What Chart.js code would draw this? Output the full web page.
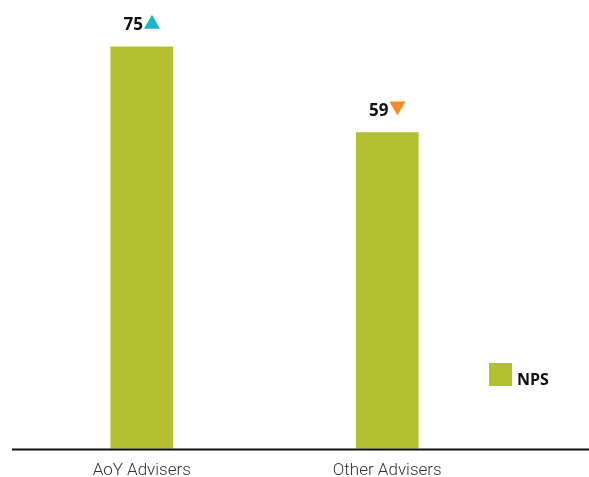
<!DOCTYPE html>
<html>
<head>
<meta charset="utf-8">
<script src="https://cdn.jsdelivr.net/npm/chart.js@4/dist/chart.umd.min.js"></script>
<style>
  html, body { margin: 0; padding: 0; background: #fff; }
  #wrap { width: 589px; height: 477px; position: relative; }
</style>
</head>
<body>
<div id="wrap"><canvas id="npsChart"></canvas></div>
<script>
const categories = ['AoY Advisers', 'Other Advisers'];
const npsValues = [75, 59];
const trends = ['up', 'down'];
const seriesLabel = 'NPS';

const BAR_GREEN = '#b3c02f';
const UP_COLOR = '#1ab5c8';
const DOWN_COLOR = '#f68b1f';

/* value labels with trend triangles */
const valueLabels = {
  id: 'valueLabels',
  afterDatasetsDraw(chart) {
    const ctx = chart.ctx;
    const meta = chart.getDatasetMeta(0);
    ctx.save();
    ctx.font = 'bold 17px "Open Sans", sans-serif';
    ctx.textBaseline = 'alphabetic';
    meta.data.forEach((bar, i) => {
      const txt = String(chart.data.datasets[0].data[i]);
      const w = ctx.measureText(txt).width;
      const tri = 16;
      const total = w + 1 + tri;
      const x0 = bar.x - total / 2;
      const base = bar.y - 17;
      ctx.fillStyle = '#111';
      ctx.textAlign = 'left';
      ctx.fillText(txt, x0, base);
      const tx = x0 + w + 1;
      ctx.beginPath();
      if (trends[i] === 'up') {
        ctx.fillStyle = UP_COLOR;
        ctx.moveTo(tx, base - 1);
        ctx.lineTo(tx + tri, base - 1);
        ctx.lineTo(tx + tri / 2, base - 15);
      } else {
        ctx.fillStyle = DOWN_COLOR;
        ctx.moveTo(tx, base - 14);
        ctx.lineTo(tx + tri, base - 14);
        ctx.lineTo(tx + tri / 2, base);
      }
      ctx.closePath();
      ctx.fill();
    });
    ctx.restore();
  }
};

/* baseline + legend */
const extras = {
  id: 'extras',
  afterDraw(chart) {
    const ctx = chart.ctx;
    const y = chart.scales.y.getPixelForValue(0);
    ctx.save();
    ctx.strokeStyle = '#111';
    ctx.lineWidth = 2;
    ctx.beginPath();
    ctx.moveTo(12, y + 1);
    ctx.lineTo(589, y + 1);
    ctx.stroke();

    ctx.fillStyle = BAR_GREEN;
    ctx.fillRect(489, 363, 23, 23);
    ctx.fillStyle = '#111';
    ctx.font = 'bold 16px "Open Sans", sans-serif';
    ctx.textBaseline = 'middle';
    ctx.textAlign = 'left';
    ctx.fillText(seriesLabel, 517, 380);
    ctx.restore();
  }
};

new Chart(document.getElementById('npsChart'), {
  type: 'bar',
  data: {
    labels: categories,
    datasets: [{
      label: seriesLabel,
      data: npsValues,
      backgroundColor: BAR_GREEN,
      borderWidth: 0,
      barThickness: 62
    }]
  },
  options: {
    responsive: true,
    maintainAspectRatio: false,
    animation: false,
    layout: { padding: { top: 20, left: 19, right: 79, bottom: -16 } },
    plugins: {
      legend: { display: false },
      tooltip: { enabled: false },
      title: { display: false }
    },
    scales: {
      x: {
        grid: { display: false, drawTicks: false },
        border: { display: false },
        ticks: {
          color: '#333',
          padding: 12,
          font: { family: 'Roboto', size: 17, weight: '300' }
        }
      },
      y: {
        min: 0,
        max: 80,
        display: false
      }
    }
  },
  plugins: [valueLabels, extras]
});
</script>
</body>
</html>
